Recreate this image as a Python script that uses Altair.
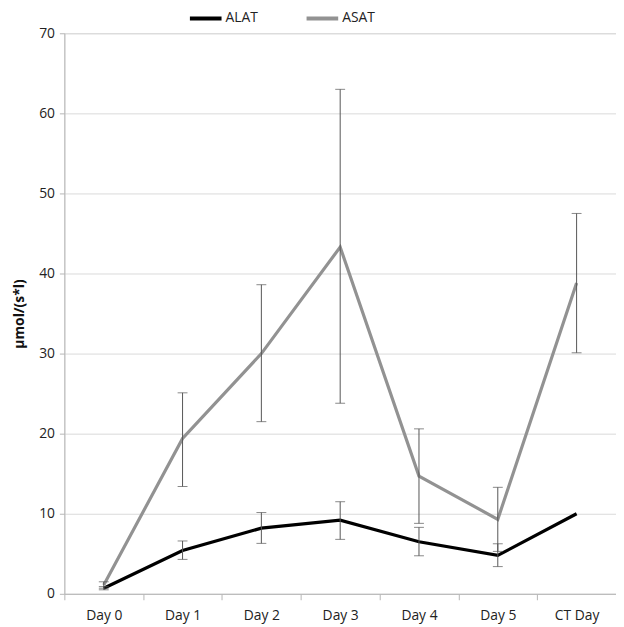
import altair as alt
import pandas as pd

days = ["Day 0", "Day 1", "Day 2", "Day 3", "Day 4", "Day 5", "CT Day"]
alat = [0.7, 5.4, 8.2, 9.2, 6.5, 4.8, 10.0]
alat_lo = [0.5, 4.3, 6.3, 6.8, 4.75, 3.4, None]
alat_hi = [0.9, 6.6, 10.15, 11.5, 8.3, 6.25, None]
asat = [1.1, 19.4, 30.0, 43.3, 14.7, 9.3, 38.8]
asat_lo = [0.7, 13.4, 21.5, 23.8, 8.8, 5.3, 30.1]
asat_hi = [1.5, 25.1, 38.6, 63.0, 20.6, 13.3, 47.5]
series = ["ALAT", "ASAT"]
colors = ["#000000", "#929292"]
y_ticks = [0, 10, 20, 30, 40, 50, 60, 70]

rows = []
for name, vals, los, his in [("ALAT", alat, alat_lo, alat_hi), ("ASAT", asat, asat_lo, asat_hi)]:
    for d, v, lo, hi in zip(days, vals, los, his):
        rows.append({"day": d, "series": name, "value": v, "lo": lo, "hi": hi})
df = pd.DataFrame(rows)
err = df.dropna(subset=["lo"])

FONT = "Open Sans"
x = alt.X("day:N", sort=days, title=None,
          scale=alt.Scale(paddingInner=0, paddingOuter=0),
          axis=alt.Axis(labelAngle=0, tickBand="extent", tickSize=6, labelPadding=9,
                        labelFontSize=14, labelColor="#222", domainColor="#b5b5b5",
                        tickColor="#b5b5b5", grid=False, labelFont=FONT))
yscale = alt.Scale(domain=[0, 70], nice=False, zero=True)

lines = alt.Chart(df).mark_line(strokeWidth=3.2).encode(
    x=x,
    y=alt.Y("value:Q", scale=yscale, title="µmol/(s*l)",
            axis=alt.Axis(values=y_ticks, tickSize=5, labelPadding=5, labelFontSize=14,
                          labelColor="#222", domainColor="#b5b5b5", tickColor="#b5b5b5",
                          gridColor="#dadada", titleFontSize=14, titleFontWeight="bold",
                          titleColor="#111", titlePadding=12, labelFont=FONT, titleFont=FONT)),
    color=alt.Color("series:N", scale=alt.Scale(domain=series, range=colors),
                    legend=alt.Legend(title=None, orient="none", direction="horizontal",
                                      legendX=125, legendY=-33, symbolType="stroke",
                                      symbolSize=1024, symbolStrokeWidth=4,
                                      columnPadding=41, labelFontSize=14, labelFont=FONT,
                                      labelColor="#222", labelOffset=2)),
    order=alt.Order("series:N", sort="descending"),
)

rules = alt.Chart(err).mark_rule(color="#555555", strokeWidth=1).encode(
    x=alt.X("day:N", sort=days), y=alt.Y("lo:Q", scale=yscale), y2="hi:Q")
cap_lo = alt.Chart(err).mark_tick(color="#555555", thickness=1, size=10).encode(
    x=alt.X("day:N", sort=days), y=alt.Y("lo:Q", scale=yscale))
cap_hi = alt.Chart(err).mark_tick(color="#555555", thickness=1, size=10).encode(
    x=alt.X("day:N", sort=days), y=alt.Y("hi:Q", scale=yscale))

chart = alt.layer(lines, rules, cap_lo, cap_hi).properties(
    width=558, height=567,
    autosize=alt.AutoSizeParams(type="none"),
    padding={"left": 57, "top": 22, "right": 0, "bottom": 30},
).configure_view(stroke=None).configure(background="white")

chart.save("out.html", embed_options={"renderer": "svg", "actions": False})
